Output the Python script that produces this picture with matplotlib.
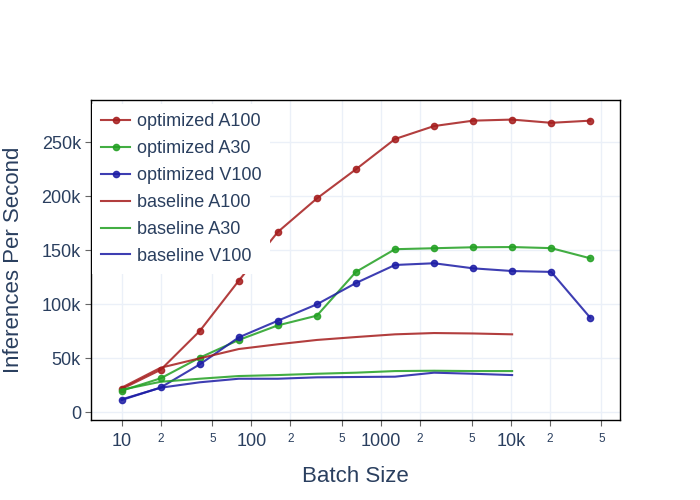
import matplotlib
matplotlib.use("Agg")
import matplotlib.pyplot as plt
from matplotlib.ticker import FixedLocator, FixedFormatter

plt.rcParams['font.family'] = ['Liberation Sans', 'DejaVu Sans']

# batch sizes used in the benchmark
batch_opt = [10, 20, 40, 80, 160, 320, 640, 1280, 2560, 5120, 10240, 20480, 40960]
batch_base = [10, 20, 40, 80, 160, 320, 640, 1280, 2560, 5120, 10240]

# inferences per second
opt_a100 = [21600, 39400, 75300, 121900, 167000, 198000, 225000, 253000, 265000, 270000, 271000, 268000, 270000]
opt_a30 = [20000, 31500, 50600, 67000, 80500, 89500, 130000, 151000, 151900, 152800, 153000, 152000, 142600]
opt_v100 = [11400, 23000, 44400, 69400, 84800, 100000, 119700, 136400, 138000, 133300, 130800, 130000, 87600]
base_a100 = [22800, 41300, 50000, 58600, 63000, 67000, 69700, 72200, 73400, 73000, 72200]
base_a30 = [20900, 28300, 31100, 33600, 34500, 35700, 36700, 38200, 38500, 38200, 38200]
base_v100 = [12000, 22800, 27800, 31100, 31100, 32400, 32700, 33000, 36700, 35700, 34500]

labels = ['optimized A100', 'optimized A30', 'optimized V100',
          'baseline A100', 'baseline A30', 'baseline V100']

RED = '#a51c1c'
GREEN = '#22a022'
BLUE = '#1c1ca5'
TXT = '#2a3f5f'
GRID = '#ebf0f8'

fig = plt.figure(figsize=(7, 5), dpi=100)
ax = fig.add_axes([90.7 / 700, 80 / 500, (620 - 90.7) / 700, (420 - 99.7) / 500])

mk = dict(marker='o', markersize=4.5, linewidth=1.5, alpha=0.85)
ax.plot(batch_opt, opt_a100, color=RED, label=labels[0], **mk)
ax.plot(batch_opt, opt_a30, color=GREEN, label=labels[1], **mk)
ax.plot(batch_opt, opt_v100, color=BLUE, label=labels[2], **mk)
ax.plot(batch_base, base_a100, color=RED, label=labels[3], linewidth=1.5, alpha=0.85)
ax.plot(batch_base, base_a30, color=GREEN, label=labels[4], linewidth=1.5, alpha=0.85)
ax.plot(batch_base, base_v100, color=BLUE, label=labels[5], linewidth=1.5, alpha=0.85)

ax.set_xscale('log')
ax.set_xlim(5.77, 69500)
ax.set_ylim(-7100, 289400)

major = [10, 100, 1000, 10000]
minor = [20, 50, 200, 500, 2000, 5000, 20000, 50000]
ax.xaxis.set_major_locator(FixedLocator(major))
ax.xaxis.set_major_formatter(FixedFormatter(['10', '100', '1000', '10k']))
ax.xaxis.set_minor_locator(FixedLocator(minor))
ax.xaxis.set_minor_formatter(FixedFormatter(['2', '5'] * 4))

yt = [0, 50000, 100000, 150000, 200000, 250000]
ax.set_yticks(yt)
ax.set_yticklabels(['0', '50k', '100k', '150k', '200k', '250k'])

ax.tick_params(axis='both', which='both', direction='out', length=4,
               width=0.8, color='#666666', labelcolor=TXT, pad=3)
ax.tick_params(axis='both', which='major', labelsize=13)
ax.tick_params(axis='x', which='major', pad=5.5)
ax.tick_params(axis='x', which='minor', labelsize=8.5, pad=5)

ax.grid(True, which='both', color=GRID, linewidth=1)
ax.set_axisbelow(True)
for s in ax.spines.values():
    s.set_color('black')
    s.set_linewidth(1)

leg = ax.legend(loc='upper left', bbox_to_anchor=(0, 1 - 3.5 / 320.3),
                fontsize=13, frameon=True, fancybox=False,
                framealpha=1, edgecolor='none', borderaxespad=0.05,
                handlelength=1.65, handletextpad=0.35, labelspacing=0.55,
                borderpad=0.5)
for t in leg.get_texts():
    t.set_color(TXT)
leg.set_zorder(10)

fig.text(355.3 / 700, 1 - 476 / 500, 'Batch Size', ha='center', va='center',
         fontsize=16, color=TXT)
fig.text(13.5 / 700, 1 - 260 / 500, 'Inferences Per Second', ha='center',
         va='center', rotation=90, fontsize=16, color=TXT)

fig.savefig('out.png', dpi=100)
